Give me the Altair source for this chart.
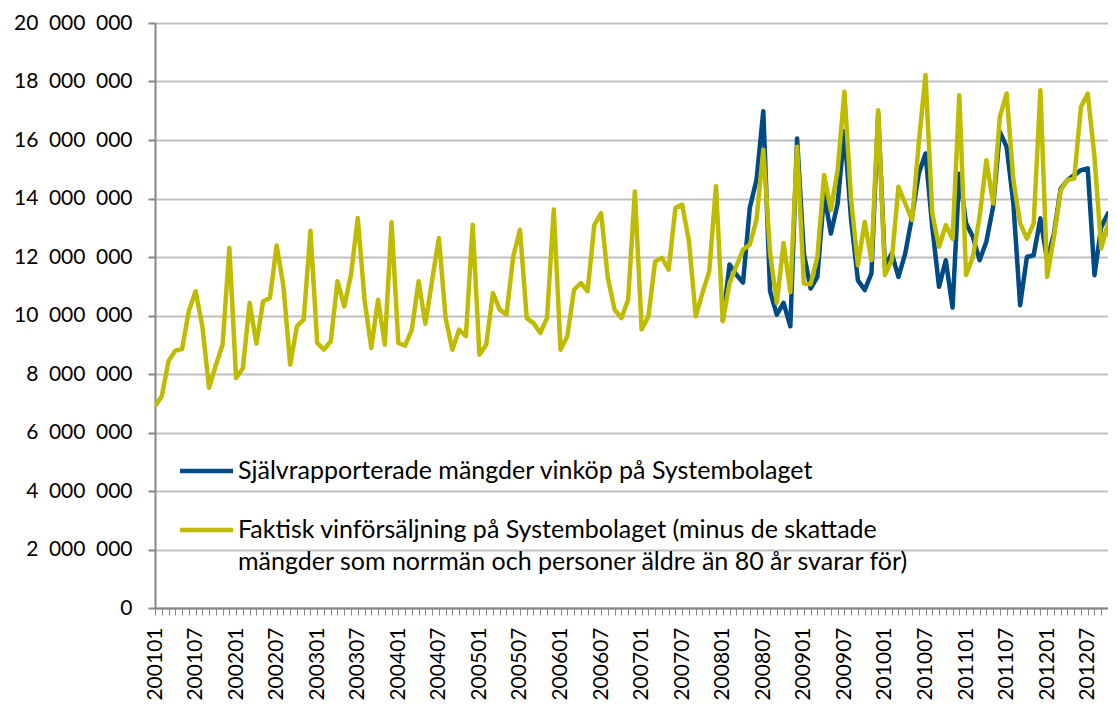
import altair as alt
import pandas as pd

# Month categories (x axis), 200101 .. 201211
months = [f"{y}{m:02d}" for y in range(2001, 2013) for m in range(1, 13)][:143]

# Actual wine sales at Systembolaget (millions), monthly from 200101
actual_m = [
    6.90, 7.24, 8.44, 8.80, 8.85, 10.15, 10.83, 9.64, 7.53, 8.30, 9.00, 12.31,
    7.86, 8.20, 10.43, 9.04, 10.49, 10.60, 12.39, 11.00, 8.32, 9.64, 9.86, 12.90,
    9.06, 8.83, 9.12, 11.17, 10.31, 11.40, 13.33, 10.54, 8.89, 10.54, 9.00, 13.19,
    9.06, 8.97, 9.52, 11.17, 9.72, 11.20, 12.65, 9.91, 8.83, 9.52, 9.29, 13.10,
    8.66, 9.00, 10.77, 10.20, 10.03, 12.02, 12.93, 9.91, 9.74, 9.40, 9.91, 13.62,
    8.83, 9.29, 10.88, 11.11, 10.83, 13.10, 13.50, 11.28, 10.20, 9.91, 10.54, 14.24,
    9.52, 9.97, 11.85, 11.97, 11.57, 13.68, 13.79, 12.54, 9.97, 10.77, 11.51, 14.42,
    9.80, 11.11, 11.68, 12.25, 12.42, 13.28, 15.67, 12.14, 10.43, 12.48, 10.80, 15.77,
    11.09, 11.07, 12.00, 14.80, 13.60, 14.97, 17.65, 13.94, 11.72, 13.20, 11.89, 17.02,
    11.38, 11.89, 14.40, 13.83, 13.26, 15.88, 18.22, 13.49, 12.35, 13.09, 12.62, 17.53,
    11.38, 12.00, 13.37, 15.31, 13.83, 16.79, 17.59, 14.63, 13.15, 12.63, 13.15, 17.70,
    11.32, 12.69, 14.28, 14.63, 14.68, 17.13, 17.59, 15.42, 12.29, 13.15, 13.83,
]

# Self-reported wine purchases (millions), monthly from 200801
reported_start = "200801"
reported_m = [
    9.80, 11.74, 11.40, 11.13, 13.68, 14.64, 16.98, 10.83, 10.03, 10.43, 9.63, 16.05,
    12.12, 10.92, 11.32, 14.17, 12.80, 13.83, 16.30, 13.26, 11.20, 10.87, 11.44, 16.90,
    11.66, 12.12, 11.32, 12.12, 13.37, 14.85, 15.54, 13.03, 10.98, 11.89, 10.27, 14.85,
    13.15, 12.69, 11.89, 12.52, 13.72, 16.28, 15.77, 13.83, 10.35, 12.00, 12.06, 13.32,
    11.89, 12.80, 14.34, 14.63, 14.80, 14.97, 15.03, 11.38, 13.03, 13.49, 10.87,
]

y_ticks = [0, 2e6, 4e6, 6e6, 8e6, 10e6, 12e6, 14e6, 16e6, 18e6, 20e6]

label_rep = "Självrapporterade mängder vinköp på Systembolaget"
label_act_1 = "Faktisk vinförsäljning på Systembolaget (minus de skattade"
label_act_2 = "mängder som norrmän och personer äldre än 80 år svarar för)"

BLUE = "#004A86"
YELLOW = "#BFBC00"
FONT = "Lato"

start = months.index(reported_start)
df_act = pd.DataFrame({"i": list(range(len(actual_m))), "v": [v * 1e6 for v in actual_m]})
df_rep = pd.DataFrame({"i": [start + k for k in range(len(reported_m))],
                       "v": [v * 1e6 for v in reported_m]})

month_arr = "[" + ",".join(f"'{m}'" for m in months) + "]"
x_label_expr = (f"(datum.value % 6 == 0) ? {month_arr}[datum.value] : ''")

x_enc = alt.X(
    "i:Q",
    scale=alt.Scale(domain=[0, 141], nice=False, zero=False),
    axis=alt.Axis(
        values=list(range(0, 142)),
        labelExpr=x_label_expr,
        labelAngle=270,
        labelFontSize=21,
        labelFont=FONT,
        labelColor="#000000",
        labelPadding=12,
        labelOverlap=False,
        labelBound=False,
        labelFlush=False,
        tickSize=7,
        tickWidth=1,
        tickColor="#868686",
        domainColor="#868686",
        domainWidth=2,
        grid=False,
        title=None,
    ),
)
y_enc = alt.Y(
    "v:Q",
    scale=alt.Scale(domain=[0, 20e6], nice=False),
    axis=alt.Axis(
        values=y_ticks,
        labelExpr="replace(format(datum.value, ','), regexp(',', 'g'), '\u2002')",
        labelFontSize=21,
        labelFont=FONT,
        labelColor="#000000",
        labelPadding=16,
        tickSize=7,
        tickWidth=2,
        tickColor="#868686",
        domainColor="#868686",
        domainWidth=2,
        gridColor="#C0C0C0",
        gridWidth=2,
        title=None,
    ),
)

rep_line = alt.Chart(df_rep).mark_line(color=BLUE, strokeWidth=4.5, clip=True,
                                       strokeJoin="round").encode(x=x_enc, y=y_enc)
act_line = alt.Chart(df_act).mark_line(color=YELLOW, strokeWidth=4.5, clip=True,
                                       strokeJoin="round").encode(x=x_enc, y=y_enc)

leg_rep_line = alt.Chart().mark_rule(color=BLUE, strokeWidth=4.5).encode(
    x=alt.value(25), x2=alt.value(78), y=alt.value(448))
leg_act_line = alt.Chart().mark_rule(color=YELLOW, strokeWidth=4.5).encode(
    x=alt.value(25), x2=alt.value(78), y=alt.value(507))
text_props = dict(align="left", baseline="middle", fontSize=25, font=FONT, color="#000000")
leg_rep_text = alt.Chart().mark_text(**text_props).encode(
    x=alt.value(83), y=alt.value(448), text=alt.value(label_rep))
leg_act_text1 = alt.Chart().mark_text(**text_props).encode(
    x=alt.value(83), y=alt.value(507), text=alt.value(label_act_1))
leg_act_text2 = alt.Chart().mark_text(**text_props).encode(
    x=alt.value(83), y=alt.value(539), text=alt.value(label_act_2))

chart = alt.layer(
    rep_line, act_line, leg_rep_line, leg_act_line, leg_rep_text, leg_act_text1, leg_act_text2
).properties(
    width=953,
    height=585,
    autosize=alt.AutoSizeParams(type="none"),
    padding={"left": 147, "top": 15, "right": 0, "bottom": 95},
).configure_view(stroke=None).configure(background="#FFFFFF")

chart.save("out.html", embed_options={"renderer": "svg", "actions": False})
